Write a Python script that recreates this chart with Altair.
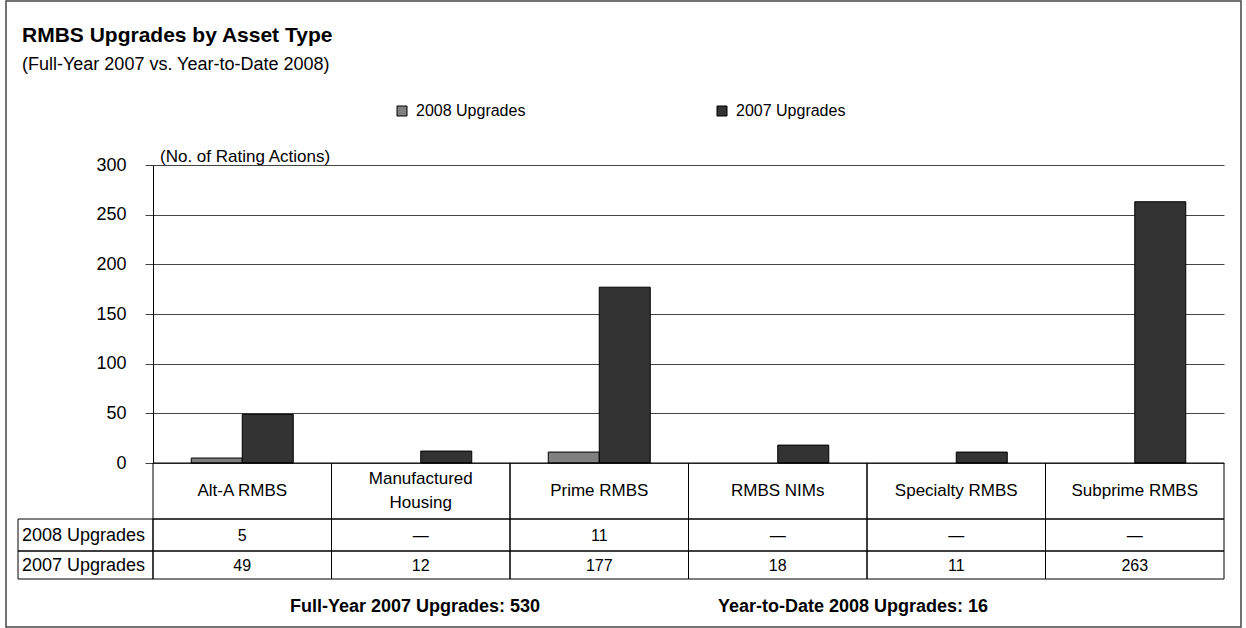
import altair as alt
import pandas as pd

# ---------------- data ----------------
cat_keys = ["Alt-A RMBS", "Manufactured Housing", "Prime RMBS", "RMBS NIMs", "Specialty RMBS", "Subprime RMBS"]
cat_labels = ["Alt-A RMBS", "Manufactured\nHousing", "Prime RMBS", "RMBS NIMs", "Specialty RMBS", "Subprime RMBS"]
upgrades_2008 = [5, None, 11, None, None, None]
upgrades_2007 = [49, 12, 177, 18, 11, 263]
series_names = ["2008 Upgrades", "2007 Upgrades"]
series_colors = ["#808080", "#333333"]
y_ticks = [0, 50, 100, 150, 200, 250, 300]

title_text = "RMBS Upgrades by Asset Type"
subtitle_text = "(Full-Year 2007 vs. Year-to-Date 2008)"
axis_note = "(No. of Rating Actions)"
total_2007 = sum(v for v in upgrades_2007 if v is not None)
total_2008 = sum(v for v in upgrades_2008 if v is not None)
footer_left = f"Full-Year 2007 Upgrades: {total_2007}"
footer_right = f"Year-to-Date 2008 Upgrades: {total_2008}"

# ---------------- tables ----------------
bar_rows = []
for k, a, b in zip(cat_keys, upgrades_2008, upgrades_2007):
    if a is not None:
        bar_rows.append({"cat": k, "series": series_names[0], "value": a})
    if b is not None:
        bar_rows.append({"cat": k, "series": series_names[1], "value": b})
bars_df = pd.DataFrame(bar_rows)

table_df = pd.DataFrame({
    "cat": cat_keys,
    "label": cat_labels,
    "t2008": ["\u2014" if v is None else str(v) for v in upgrades_2008],
    "t2007": ["\u2014" if v is None else str(v) for v in upgrades_2007],
})
one = pd.DataFrame({"k": [0]})

SANS = "Liberation Sans, Arial, Helvetica, sans-serif"
NARROW = "Liberation Sans Narrow, Arial Narrow, Liberation Sans, sans-serif"

# plot area: x 153..1224, y 165..463
W, H = 1071, 298
OX, OY = 153, 165

def px(x):
    return x - OX

def py(y):
    return y - OY

xenc = alt.X("cat:N", sort=cat_keys, axis=None,
             scale=alt.Scale(paddingInner=0, paddingOuter=0))

bars = alt.Chart(bars_df).mark_bar(stroke="black", strokeWidth=1).encode(
    x=xenc,
    xOffset=alt.XOffset("series:N", sort=series_names,
                        scale=alt.Scale(paddingInner=0, paddingOuter=0.75)),
    y=alt.Y("value:Q",
            scale=alt.Scale(domain=[0, 300], nice=False),
            axis=alt.Axis(values=y_ticks, title=None, grid=True,
                          gridColor="#444444", gridWidth=1,
                          tickColor="#444444", tickSize=8,
                          domainColor="black", labelFont=NARROW,
                          labelFontSize=18, labelColor="black",
                          labelPadding=19)),
    color=alt.Color("series:N",
                    scale=alt.Scale(domain=series_names, range=series_colors),
                    legend=alt.Legend(orient="none", legendX=px(394), legendY=py(103),
                                      direction="horizontal", title=None,
                                      symbolType="square", symbolSize=100,
                                      symbolStrokeColor="black", symbolStrokeWidth=1,
                                      labelFont=NARROW, labelFontSize=16,
                                      labelColor="black", columnPadding=188,
                                      labelOffset=6)),
)

# table cells
cells = []
for (y0, y1) in [(463, 519), (519, 551), (551, 579)]:
    cells.append(alt.Chart(table_df).mark_rect(fill="white", fillOpacity=0,
                                               stroke="black", strokeWidth=1).encode(
        x=xenc, y=alt.value(py(y0)), y2=alt.value(py(y1))))
for (y0, y1) in [(519, 551), (551, 579)]:
    cells.append(alt.Chart(one).mark_rect(fill="white", fillOpacity=0,
                                          stroke="black", strokeWidth=1).encode(
        x=alt.value(px(18)), x2=alt.value(0), y=alt.value(py(y0)), y2=alt.value(py(y1))))

multi_line = "indexof(datum.label, '\\n') >= 0"
cat_text1 = alt.Chart(table_df).transform_filter("!(" + multi_line + ")").mark_text(
    font=SANS, fontSize=17, baseline="middle", color="black").encode(
    x=xenc, y=alt.value(py(491)), text="label:N")
cat_text2 = alt.Chart(table_df).transform_filter(multi_line).mark_text(
    font=SANS, fontSize=17, lineBreak="\n", baseline="middle", color="black",
    lineHeight=24, dy=-12).encode(
    x=xenc, y=alt.value(py(491)), text="label:N")
t8 = alt.Chart(table_df).mark_text(font=NARROW, fontSize=16, baseline="middle",
                                   color="black").encode(
    x=xenc, y=alt.value(py(536)), text="t2008:N")
t7 = alt.Chart(table_df).mark_text(font=NARROW, fontSize=16, baseline="middle",
                                   color="black").encode(
    x=xenc, y=alt.value(py(566)), text="t2007:N")

row_lbl8 = alt.Chart(one).mark_text(font=SANS, fontSize=18, align="left",
                                    baseline="middle", color="black",
                                    text=series_names[0]).encode(
    x=alt.value(px(22)), y=alt.value(py(536)))
row_lbl7 = alt.Chart(one).mark_text(font=SANS, fontSize=18, align="left",
                                    baseline="middle", color="black",
                                    text=series_names[1]).encode(
    x=alt.value(px(22)), y=alt.value(py(566)))

title = alt.Chart(one).mark_text(font=SANS, fontSize=21, fontWeight="bold",
                                 align="left", baseline="alphabetic",
                                 color="black", text=title_text).encode(
    x=alt.value(px(22)), y=alt.value(py(42)))
subtitle = alt.Chart(one).mark_text(font=SANS, fontSize=18, align="left",
                                    baseline="alphabetic", color="black",
                                    text=subtitle_text).encode(
    x=alt.value(px(22)), y=alt.value(py(70)))
note = alt.Chart(one).mark_text(font=NARROW, fontSize=17, align="left",
                                baseline="alphabetic", color="black",
                                text=axis_note).encode(
    x=alt.value(px(160)), y=alt.value(py(162)))
foot1 = alt.Chart(one).mark_text(font=SANS, fontSize=18, fontWeight="bold",
                                 align="left", baseline="middle", color="black",
                                 text=footer_left).encode(
    x=alt.value(px(290)), y=alt.value(py(607)))
foot2 = alt.Chart(one).mark_text(font=SANS, fontSize=18, fontWeight="bold",
                                 align="left", baseline="middle", color="black",
                                 text=footer_right).encode(
    x=alt.value(px(718)), y=alt.value(py(607)))

border = alt.Chart(one).mark_rect(fill="white", fillOpacity=0, stroke="#444444",
                                  strokeWidth=1.5).encode(
    x=alt.value(px(6)), x2=alt.value(px(1241)),
    y=alt.value(py(1)), y2=alt.value(py(627)))

chart = alt.layer(
    bars, *cells, cat_text1, cat_text2, t8, t7, row_lbl8, row_lbl7,
    title, subtitle, note, foot1, foot2, border
).properties(
    width=W, height=H,
    padding={"left": OX, "top": OY, "right": 1246 - OX - W, "bottom": 628 - OY - H},
    autosize=alt.AutoSizeParams(type="none"),
    background="white",
).configure_view(stroke=None)

chart.save("out.html", embed_options={"renderer": "svg", "actions": False})
